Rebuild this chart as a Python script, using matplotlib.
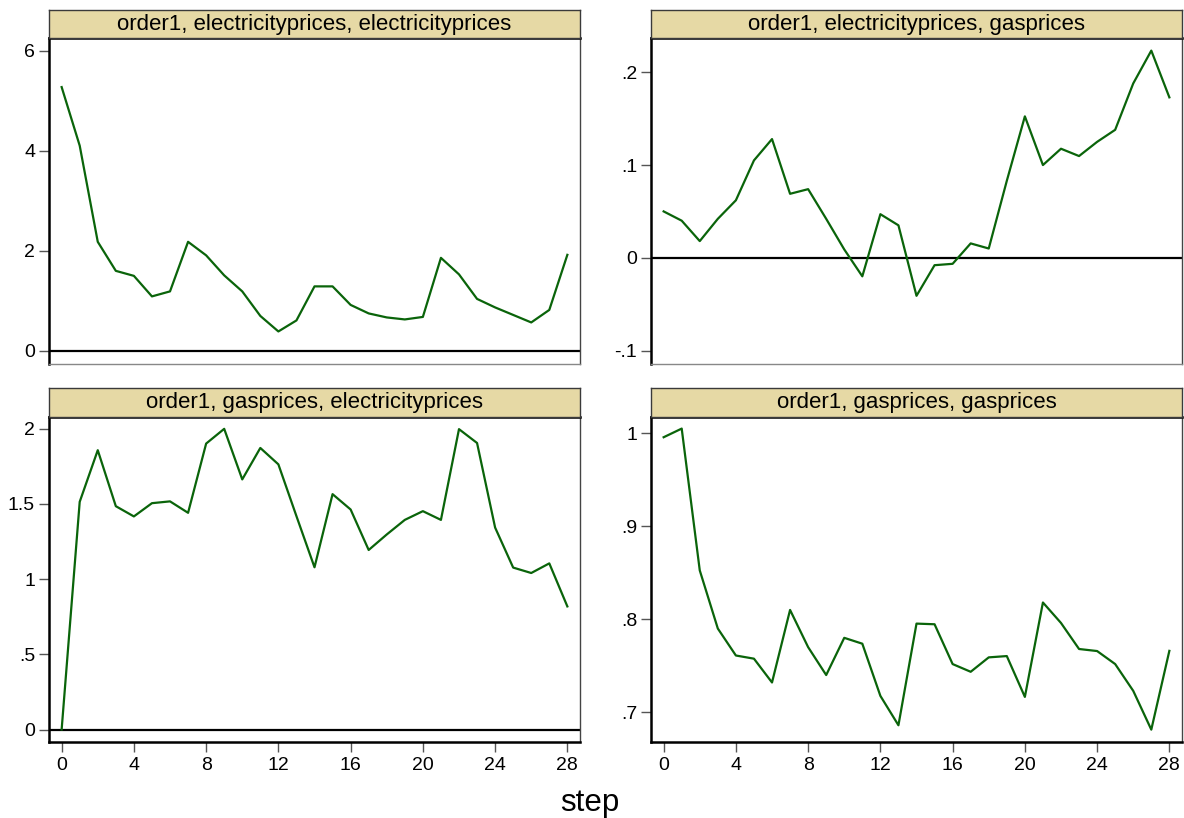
import matplotlib
matplotlib.use("Agg")
import matplotlib.pyplot as plt

plt.rcParams['font.family'] = ['Liberation Sans', 'DejaVu Sans']

steps = list(range(29))

titles = [
    "order1, electricityprices, electricityprices",
    "order1, electricityprices, gasprices",
    "order1, gasprices, electricityprices",
    "order1, gasprices, gasprices",
]

elec_elec = [5.27, 4.10, 2.18, 1.60, 1.50, 1.09, 1.19, 2.18, 1.91, 1.51,
             1.19, 0.70, 0.39, 0.61, 1.29, 1.29, 0.92, 0.75, 0.67, 0.63,
             0.68, 1.86, 1.53, 1.04, 0.87, 0.72, 0.57, 0.82, 1.92]

elec_gas = [0.050, 0.040, 0.018, 0.042, 0.062, 0.105, 0.128, 0.069, 0.074, 0.042,
            0.009, -0.020, 0.047, 0.035, -0.041, -0.008, -0.0065, 0.0155, 0.010, 0.083,
            0.1525, 0.100, 0.1176, 0.1097, 0.125, 0.138, 0.188, 0.2234, 0.173]

gas_elec = [0.0, 1.513, 1.856, 1.484, 1.416, 1.504, 1.516, 1.44, 1.90, 1.998,
            1.662, 1.871, 1.762, 1.418, 1.078, 1.564, 1.462, 1.193, 1.296, 1.393,
            1.451, 1.393, 1.996, 1.904, 1.342, 1.076, 1.04, 1.104, 0.818]

gas_gas = [0.9957, 1.005, 0.8525, 0.790, 0.761, 0.7576, 0.732, 0.810, 0.770, 0.740,
           0.780, 0.7737, 0.7176, 0.686, 0.7953, 0.7946, 0.7518, 0.7435, 0.759, 0.7604,
           0.7165, 0.818, 0.796, 0.768, 0.7658, 0.7518, 0.723, 0.6813, 0.766]

series = [elec_elec, elec_gas, gas_elec, gas_gas]

yticks = [[0, 2, 4, 6], [-0.1, 0, 0.1, 0.2], [0, 0.5, 1, 1.5, 2], [0.7, 0.8, 0.9, 1.0]]
yticklabels = [["0", "2", "4", "6"], ["-.1", "0", ".1", ".2"],
               ["0", ".5", "1", "1.5", "2"], [".7", ".8", ".9", "1"]]
ylims = [(-0.25, 6.25), (-0.114, 0.237), (-0.083, 2.08), (0.668, 1.018)]
xticks = [0, 4, 8, 12, 16, 20, 24, 28]

W, H = 1184, 818
fig = plt.figure(figsize=(W / 100, H / 100), dpi=100)
fig.patch.set_facecolor('white')

def fx(px):
    return px / W

def fy(py):
    return 1 - py / H

lefts = [49, 651]
rights = [580, 1182]
plot_tops = [38, 416.5]
plot_bottoms = [363.5, 742]
bar_tops = [9.5, 387.5]

line_color = '#0a640a'
bar_color = '#e6d9a5'

for i in range(4):
    r, c = divmod(i, 2)
    l, rt = lefts[c], rights[c]
    t, b = plot_tops[r], plot_bottoms[r]
    ax = fig.add_axes([fx(l), fy(b), fx(rt - l), (b - t) / H])
    ax.plot(steps, series[i], color=line_color, lw=1.6, zorder=3)
    if ylims[i][0] < 0 < ylims[i][1]:
        ax.axhline(0, color='black', lw=1.6, zorder=2)
    ax.set_xlim(-0.7, 28.7)
    ax.set_ylim(*ylims[i])
    ax.set_yticks(yticks[i])
    ax.set_yticklabels(yticklabels[i], fontsize=14)
    ax.tick_params(axis='y', length=7, width=1.0, color='#555555', pad=3)
    ax.spines['left'].set_linewidth(1.8)
    ax.spines['left'].set_color('black')
    ax.spines['top'].set_linewidth(1.8)
    ax.spines['top'].set_color('black')
    ax.spines['right'].set_linewidth(1.0)
    ax.spines['right'].set_color('#444444')
    if r == 1:
        ax.set_xticks(xticks)
        ax.set_xticklabels([str(x) for x in xticks], fontsize=14)
        ax.tick_params(axis='x', length=7, width=1.0, color='#555555', pad=4)
        ax.spines['bottom'].set_linewidth(1.8)
        ax.spines['bottom'].set_color('black')
    else:
        ax.set_xticks([])
        ax.spines['bottom'].set_linewidth(1.0)
        ax.spines['bottom'].set_color('#888888')

    # title bar
    bt = bar_tops[r]
    bax = fig.add_axes([fx(l), fy(t), fx(rt - l), (t - bt) / H])
    bax.set_facecolor(bar_color)
    bax.set_xticks([])
    bax.set_yticks([])
    for s in bax.spines.values():
        s.set_color('#3a3a3a')
        s.set_linewidth(1.0)
    bax.text(0.5, 0.48, titles[i], ha='center', va='center', fontsize=16,
             transform=bax.transAxes)

fig.text(fx(590), fy(803), "step", ha='center', va='center', fontsize=22.5)

fig.savefig("out.png", dpi=100)
